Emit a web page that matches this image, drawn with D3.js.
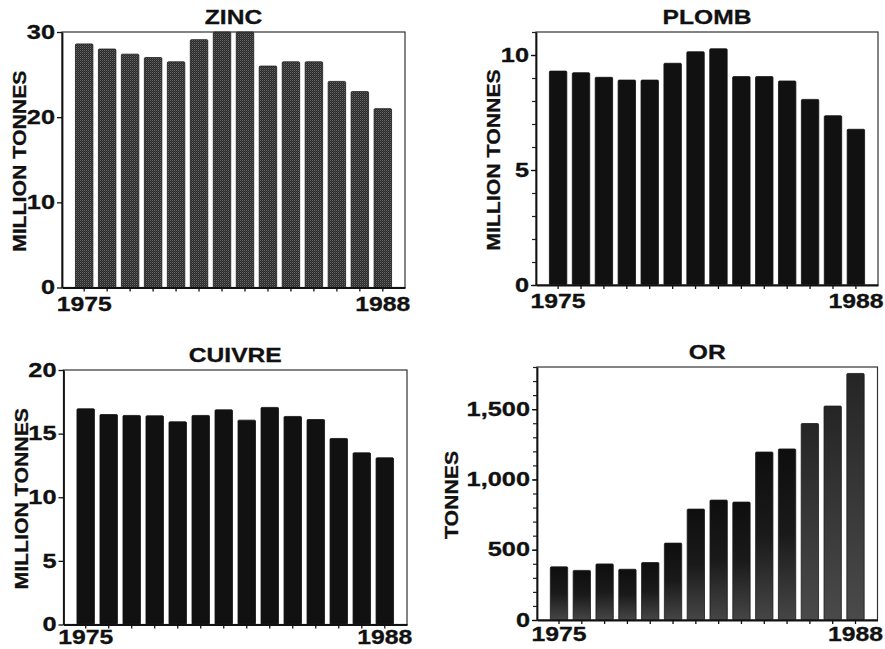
<!DOCTYPE html>
<html>
<head>
<meta charset="utf-8">
<script src="https://cdn.jsdelivr.net/npm/d3@7"></script>
<style>
  html, body { margin: 0; padding: 0; background: #fff; }
  svg { display: block; }
  text { font-family: "Liberation Sans", Arial, sans-serif; font-weight: bold; fill: #111; stroke: #111; stroke-width: 0.3px; }
</style>
</head>
<body>
<svg id="chart" width="885" height="649"></svg>
<script>
// ---------- data ----------
const years = [1975, 1976, 1977, 1978, 1979, 1980, 1981, 1982, 1983, 1984, 1985, 1986, 1987, 1988];
const yearLabels = ["1975", "1988"];

const zincValues   = [28.6, 28.0, 27.4, 27.0, 26.5, 29.1, 30.0, 30.0, 26.0, 26.5, 26.5, 24.2, 23.0, 21.0];
const plombValues  = [9.30, 9.23, 9.03, 8.91, 8.91, 9.64, 10.14, 10.27, 9.06, 9.06, 8.87, 8.07, 7.36, 6.77];
const cuivreValues = [16.95, 16.5, 16.43, 16.4, 15.93, 16.43, 16.87, 16.06, 17.06, 16.35, 16.11, 14.62, 13.49, 13.1];
const orValues     = [378, 353, 399, 361, 409, 547, 789, 853, 839, 1195, 1217, 1398, 1522, 1754];

const zincTicks   = [0, 10, 20, 30];
const plombTicks  = [0, 5, 10];
const cuivreTicks = [0, 5, 10, 15, 20];
const orTicks     = [0, 500, 1000, 1500];

const titles = ["ZINC", "PLOMB", "CUIVRE", "OR"];
const yTitles = ["MILLION TONNES", "MILLION TONNES", "MILLION TONNES", "TONNES"];

// ---------- drawing ----------
const svg = d3.select("#chart");
const defs = svg.append("defs");

// textured fill for zinc
const pat = defs.append("pattern").attr("id", "zincPat")
  .attr("width", 2).attr("height", 2).attr("patternUnits", "userSpaceOnUse");
pat.append("rect").attr("width", 2).attr("height", 2).attr("fill", "#2a2a2a");
pat.append("rect").attr("x", 0).attr("y", 0).attr("width", 1).attr("height", 1).attr("fill", "#666");
pat.append("rect").attr("x", 1).attr("y", 1).attr("width", 1).attr("height", 1).attr("fill", "#444");

// gradient fills for gold
const g1 = defs.append("linearGradient").attr("id", "orGrad").attr("x1", 0).attr("y1", 0).attr("x2", 0).attr("y2", 1);
g1.append("stop").attr("offset", "0%").attr("stop-color", "#0e0e0e");
g1.append("stop").attr("offset", "50%").attr("stop-color", "#1a1a1a");
g1.append("stop").attr("offset", "100%").attr("stop-color", "#464646");
const g2 = defs.append("linearGradient").attr("id", "orGrad2").attr("x1", 0).attr("y1", 0).attr("x2", 0).attr("y2", 1);
g2.append("stop").attr("offset", "0%").attr("stop-color", "#252525");
g2.append("stop").attr("offset", "100%").attr("stop-color", "#4a4a4a");

// horizontal stretch of a text about its anchor point (x attribute)
function hstretch(sel, k) {
  sel.each(function () {
    const x = +(this.getAttribute("x") || 0);
    this.setAttribute("transform", `translate(${x},0) scale(${k},1) translate(${-x},0)`);
  });
}

const panels = [
  { values: zincValues,   ticks: zincTicks,   domain: [0, 30],   minor: null, box: [62, 405, 32, 287.5],   fill: () => "url(#zincPat)", stroke: "#1a1a1a", ytOff: 36, fmt: d3.format("d"), xPad: 6 },
  { values: plombValues,  ticks: plombTicks,  domain: [0, 11],   minor: 1,    box: [536, 878, 32, 285],    fill: () => "#111", stroke: "#111", ytOff: 36, fmt: d3.format("d"), xPad: 5 },
  { values: cuivreValues, ticks: cuivreTicks, domain: [0, 20],   minor: null, box: [63.5, 407, 370, 624.5], fill: () => "#111", stroke: "#111", ytOff: 36, fmt: d3.format("d"), xPad: 2 },
  { values: orValues,     ticks: orTicks,     domain: [0, 1800], minor: 100,  box: [537, 877.5, 367, 620], fill: (yr) => yr >= 1986 ? "url(#orGrad2)" : "url(#orGrad)", stroke: "#1a1a1a", ytOff: 79, fmt: d3.format(","), xPad: 3 }
];

panels.forEach((p, i) => {
  const [x0, x1, y0, y1] = p.box;
  const g = svg.append("g");

  const x = d3.scaleBand().domain(years).range([x0, x1]).paddingInner(0.24).paddingOuter(0.585);
  const y = d3.scaleLinear().domain(p.domain).range([y1, y0]);

  // bars
  g.selectAll("rect.bar").data(years.map((yr, j) => ({ yr, v: p.values[j] })))
    .enter().append("rect").attr("class", "bar")
    .attr("x", d => x(d.yr))
    .attr("width", x.bandwidth())
    .attr("y", d => y(d.v))
    .attr("height", d => y1 - y(d.v))
    .attr("rx", 1)
    .attr("fill", d => p.fill(d.yr))
    .attr("stroke", p.stroke).attr("stroke-width", 0.8);

  // frame
  g.append("rect").attr("x", x0).attr("y", y0).attr("width", x1 - x0).attr("height", y1 - y0)
    .attr("fill", "none").attr("stroke", "#333").attr("stroke-width", 1.2);

  // minor y ticks
  if (p.minor) {
    const minorVals = d3.range(p.domain[0], p.domain[1] + 1e-9, p.minor);
    const ma = g.append("g").attr("transform", `translate(${x0},0)`)
      .call(d3.axisLeft(y).tickValues(minorVals).tickSize(4).tickFormat(""));
    ma.select(".domain").remove();
    ma.selectAll("line").attr("stroke", "#222").attr("stroke-width", 1.2);
  }

  // y axis
  const ya = g.append("g").attr("transform", `translate(${x0},0)`)
    .call(d3.axisLeft(y).tickValues(p.ticks).tickSize(5).tickPadding(2).tickFormat(p.fmt).tickSizeOuter(0));
  ya.select(".domain").attr("stroke", "#111").attr("stroke-width", 1.8);
  ya.selectAll("line").attr("stroke", "#111").attr("stroke-width", 1.3);
  ya.selectAll("text").attr("font-size", 19.5).attr("font-family", "Liberation Sans, Arial, sans-serif")
    .attr("font-weight", "bold").attr("fill", "#111");
  hstretch(ya.selectAll("text"), 1.3);

  // x axis
  const xa = g.append("g").attr("transform", `translate(0,${y1})`)
    .call(d3.axisBottom(x).tickSize(4).tickPadding(p.xPad).tickSizeOuter(0)
      .tickFormat(d => yearLabels.includes(String(d)) ? String(d) : ""));
  xa.select(".domain").attr("stroke", "#111").attr("stroke-width", 1.8);
  xa.selectAll("line").attr("stroke", "#111").attr("stroke-width", 1.3);
  xa.selectAll("text").attr("font-size", 19.5).attr("font-family", "Liberation Sans, Arial, sans-serif")
    .attr("font-weight", "bold").attr("fill", "#111");
  hstretch(xa.selectAll("text"), 1.27);

  // title
  g.append("text")
    .attr("transform", `translate(${(x0 + x1) / 2},${y0 - 8}) scale(1.23,1)`)
    .attr("text-anchor", "middle").attr("font-size", 20).text(titles[i]);

  // y axis title
  g.append("text")
    .attr("transform", `translate(${x0 - p.ytOff},${(y0 + y1) / 2 + 1.5}) rotate(-90) scale(1.15,1)`)
    .attr("text-anchor", "middle").attr("font-size", 18.5).text(yTitles[i]);
});
</script>
</body>
</html>
